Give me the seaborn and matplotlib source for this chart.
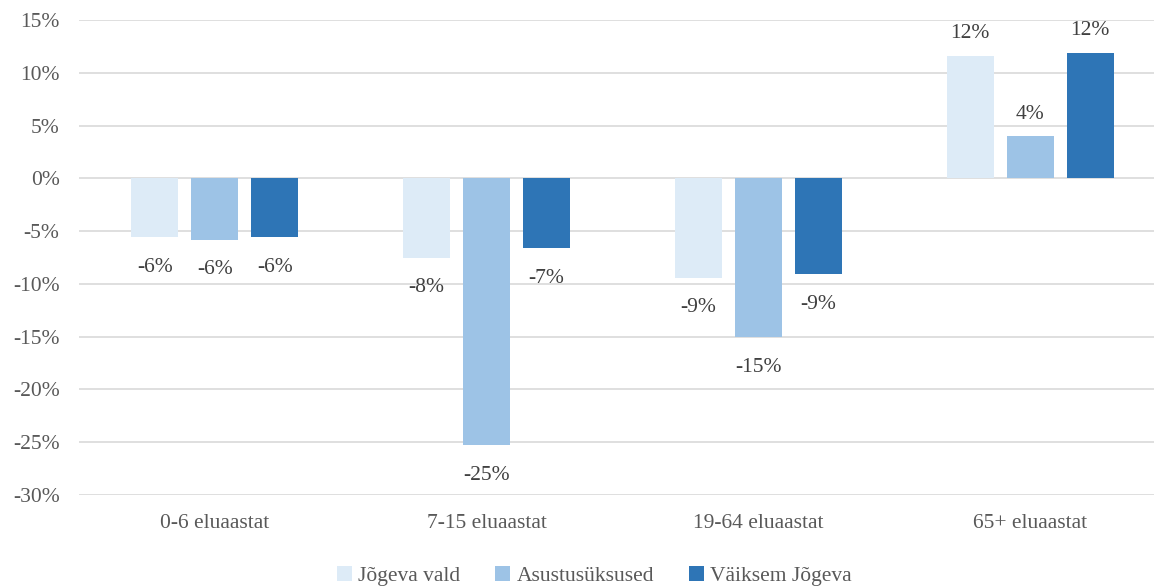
import matplotlib
matplotlib.use("Agg")
import matplotlib.pyplot as plt
import seaborn as sns
import pandas as pd
from matplotlib.ticker import FuncFormatter
from matplotlib.patches import Patch

categories = ["0-6 eluaastat", "7-15 eluaastat", "19-64 eluaastat", "65+ eluaastat"]
series_names = ["Jõgeva vald", "Asustusüksused", "Väiksem Jõgeva"]
jogeva_vald = [-5.6, -7.5, -9.4, 11.6]
asustusuksused = [-5.8, -25.3, -15.0, 4.0]
vaiksem_jogeva = [-5.6, -6.6, -9.1, 11.9]
colors = ["#DDEBF7", "#9DC3E6", "#2E75B6"]

rows = []
for name, vals in zip(series_names, [jogeva_vald, asustusuksused, vaiksem_jogeva]):
    for c, v in zip(categories, vals):
        rows.append({"kategooria": c, "seeria": name, "vaartus": v})
df = pd.DataFrame(rows)

sns.set_theme(style="white")
plt.rcParams["font.family"] = ["Liberation Serif", "DejaVu Serif"]

fig = plt.figure(figsize=(11.54, 5.88), dpi=100)
ax = fig.add_axes([79 / 1154, 93 / 588, 1 - 79 / 1154, (495 - 20) / 588])

sns.barplot(data=df, x="kategooria", y="vaartus", hue="seeria",
            hue_order=series_names, order=categories,
            palette=colors, width=0.662, gap=0.217, ax=ax,
            legend=False, saturation=1, edgecolor="none", linewidth=0)

ax.set_ylim(-30, 15)
ax.set_xlim(-0.5, 3.456)
ax.set_yticks(range(-30, 16, 5))
ax.yaxis.set_major_formatter(FuncFormatter(lambda v, p: f"{v:.0f}%"))
ax.grid(axis="y", color="#D9D9D9", linewidth=1.2)
ax.set_axisbelow(True)
for s in ax.spines.values():
    s.set_visible(False)
ax.set_xlabel("")
ax.set_ylabel("")
ax.tick_params(axis="both", length=0, labelsize=15.5, colors="#595959")
ax.tick_params(axis="y", pad=14)
ax.tick_params(axis="x", pad=14)

for cont in ax.containers:
    pos = [f"{round(b.get_height()):.0f}%" if b.get_height() >= 0 else "" for b in cont]
    neg = [f"{round(b.get_height()):.0f}%" if b.get_height() < 0 else "" for b in cont]
    ax.bar_label(cont, labels=pos, padding=9, fontsize=15.5, color="#404040")
    ax.bar_label(cont, labels=neg, padding=15, fontsize=15.5, color="#404040")

handles = [Patch(facecolor=c, edgecolor="none") for c in colors]
fig.legend(handles, series_names, loc="center", bbox_to_anchor=(0.515, 1 - 576 / 588),
           ncol=3, frameon=False, fontsize=15.5, handlelength=0.7, handleheight=0.7,
           handletextpad=0.3, columnspacing=1.6, labelcolor="#595959")

fig.savefig("out.png", dpi=100)
